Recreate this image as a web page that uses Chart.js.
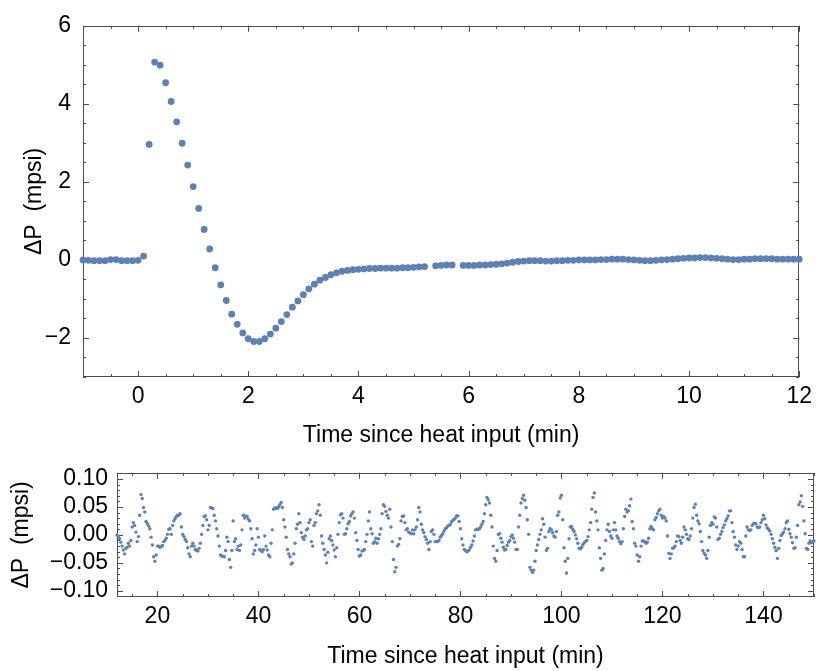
<!DOCTYPE html>
<html>
<head>
<meta charset="utf-8">
<title>Pressure response after heat input</title>
<script src="https://cdn.jsdelivr.net/npm/chart.js@4.4.1/dist/chart.umd.min.js"></script>
<style>
  html, body { margin: 0; padding: 0; background: #fff; }
  #wrap { position: relative; width: 818px; height: 671px; }
  #top-chart { position: absolute; left: 0; top: 0; }
  #long-chart { position: absolute; left: 0; top: 450px; }
</style>
</head>
<body>
<div id="wrap">
  <canvas id="top-chart" width="818" height="450"></canvas>
  <canvas id="long-chart" width="818" height="221"></canvas>
</div>
<script>
// ======================================
// DATA
// ======================================

// Upper panel: one sample every 0.1 min starting at -1.0 min (null = missing sample)
const topStart = -1.0;
const topStep = 0.1;
const topDeltaP = [
    0.00, -0.01, -0.02, -0.02, -0.02, 0.01, 0.01, -0.02, -0.02, -0.02, -0.01,
    0.10, 2.96, 5.07, 4.99, 4.54, 4.06, 3.54, 2.99, 2.43, 1.88,
    1.32, 0.78, 0.28, -0.20, -0.64, -1.04, -1.39, -1.65, -1.87, -2.02,
    -2.09, -2.09, -2.02, -1.90, -1.75, -1.58, -1.40, -1.21, -1.05, -0.89,
    -0.74, -0.62, -0.52, -0.45, -0.38, -0.33, -0.29, -0.27, -0.25, -0.24,
    -0.23, -0.22, -0.22, -0.21, -0.21, -0.21, -0.21, -0.20, -0.20, -0.19,
    -0.18, -0.17, null, -0.15, -0.14, -0.13, -0.13, null, -0.14, -0.14,
    -0.14, -0.13, -0.13, -0.12, -0.11, -0.10, -0.08, -0.06, -0.04, -0.03,
    -0.02, -0.02, -0.02, -0.03, -0.03, -0.02, -0.02, -0.01, -0.01, 0.00,
    0.00, 0.00, 0.00, 0.01, 0.01, 0.02, 0.02, 0.02, 0.01, 0.00,
    -0.01, -0.02, -0.02, -0.01, 0.00, 0.01, 0.02, 0.03, 0.04, 0.05,
    0.05, 0.06, 0.06, 0.05, 0.04, 0.03, 0.02, 0.01, 0.01, 0.02,
    0.02, 0.03, 0.03, 0.03, 0.03, 0.02, 0.02, 0.02, 0.02, 0.02
];
const topXTicks = [0, 2, 4, 6, 8, 10, 12];
const topYTicks = [-2, 0, 2, 4, 6];

// Lower panel: samples on the half minute, 12.0 .. 150.0 min
const longStart = 12;
const longStep = 0.5;
const longDeltaP = [
    // 12 - 35
    0.000, -0.007, -0.020, -0.034, -0.022, -0.020, 0.014, 0.017, -0.012, 0.035,
    0.065, 0.041, 0.020, 0.011, -0.018, -0.047, -0.020, -0.022, -0.019, -0.010,
    0.001, 0.011, 0.017, 0.029, 0.035, 0.038, 0.001, -0.008, -0.023, -0.039,
    -0.015, -0.026, -0.029, -0.015, 0.017, 0.034, 0.009, 0.049, 0.047, 0.025,
    -0.002, -0.036, -0.038, -0.028, -0.012, -0.058, 0.025,
    // 35.5 - 58.5
    -0.007, -0.020, -0.018, 0.035, 0.034, 0.028, 0.011, -0.034, -0.018, -0.004,
    -0.028, -0.026, -0.020, -0.036, -0.015, 0.046, 0.048, 0.050, 0.058, 0.027,
    -0.004, -0.034, -0.052, -0.034, 0.011, 0.038, 0.004, -0.008, 0.009, 0.022,
    -0.012, 0.017, 0.038, 0.054, -0.002, -0.026, -0.050, -0.007, -0.010, -0.027,
    -0.023, 0.022, 0.038, 0.001, 0.011, 0.024, 0.038,
    // 59 - 82.5
    0.030, -0.010, -0.038, -0.029, -0.026, 0.001, 0.041, 0.002, -0.012, -0.015,
    0.001, 0.038, 0.051, 0.035, 0.046, -0.012, -0.066, -0.020, -0.007, 0.033,
    0.022, 0.011, 0.004, 0.009, 0.009, 0.027, 0.041, 0.009, -0.003, -0.015,
    -0.012, 0.009, -0.012, -0.012, -0.004, 0.002, 0.011, 0.016, 0.019, 0.026,
    0.030, 0.034, 0.011, -0.018, -0.028, -0.029, -0.022, -0.011,
    // 83 - 106
    0.009, 0.010, 0.014, 0.024, 0.054, 0.063, 0.035, -0.020, -0.047, 0.001,
    -0.006, -0.022, -0.026, -0.013, -0.003, -0.006, -0.026, 0.014, 0.057, 0.071,
    0.049, 0.001, -0.063, -0.063, -0.028, -0.008, 0.009, 0.019, -0.028, 0.006,
    0.009, -0.002, 0.006, 0.041, 0.071, -0.023, -0.068, -0.007, 0.015, 0.006,
    -0.007, -0.024, -0.022, -0.014, -0.010, 0.009, 0.046,
    // 106.5 - 129.5
    0.075, 0.025, -0.023, -0.063, -0.034, 0.009, 0.006, -0.006, 0.022, -0.002,
    -0.012, -0.012, 0.033, 0.041, 0.052, 0.024, -0.015, -0.036, -0.039, -0.011,
    -0.012, -0.013, 0.011, 0.011, 0.027, 0.038, 0.046, 0.030, 0.030, -0.002,
    -0.042, -0.024, -0.020, -0.002, -0.010, -0.004, 0.009, -0.007, -0.002, 0.030,
    0.055, 0.025, 0.006, -0.028, -0.036, -0.028, 0.017,
    // 130 - 150
    0.019, 0.030, -0.008, 0.001, 0.013, 0.025, 0.034, 0.043, 0.006, -0.018,
    -0.020, -0.015, -0.039, -0.002, 0.009, 0.009, 0.020, 0.020, 0.013, 0.022,
    0.035, 0.018, 0.010, 0.001, -0.015, -0.028, -0.024, -0.001, 0.005, 0.022,
    0.010, -0.004, -0.024, -0.004, 0.054, 0.070, 0.025, -0.024, -0.015, -0.014,
    -0.011
];

// Lower panel: samples on the quarter minute in between, 12.25 .. 149.75 min
const longMidStart = 12.25;
const longDeltaPMid = [
    // 12.25 - 34.75
    -0.003, -0.013, -0.027, -0.024, -0.015, -0.010, 0.022, 0.005, -0.003, 0.072,
    0.049, 0.024, 0.016, -0.004, -0.039, -0.036, -0.020, -0.021, -0.012, -0.006,
    0.010, 0.001, 0.025, 0.033, 0.035, 0.014, -0.003, -0.012, -0.034, -0.020,
    -0.020, -0.028, -0.024, 0.001, 0.033, 0.027, 0.017, 0.048, 0.035, 0.011,
    -0.020, -0.038, -0.039, -0.004, -0.044, -0.028,
    // 35.25 - 58.75
    -0.012, -0.026, -0.028, 0.009, 0.030, 0.033, 0.025, -0.007, -0.028, 0.011,
    -0.026, -0.030, -0.002, -0.027, -0.039, 0.009, 0.048, 0.047, 0.054, 0.049,
    0.014, -0.026, -0.039, -0.050, -0.015, 0.019, 0.022, -0.004, -0.002, 0.011,
    0.027, -0.020, 0.022, 0.043, 0.035, -0.015, -0.036, -0.031, -0.002, -0.018,
    -0.039, 0.001, 0.036, 0.030, 0.002, 0.020, 0.034, 0.041,
    // 59.25 - 82.75
    0.004, -0.026, -0.036, -0.028, -0.012, 0.025, 0.011, -0.015, -0.006, -0.007,
    0.011, 0.054, 0.042, 0.030, 0.014, -0.044, -0.058, -0.017, 0.025, 0.034,
    0.009, 0.005, 0.002, 0.002, 0.014, 0.049, 0.019, 0.004, -0.008, -0.026,
    0.006, 0.001, -0.012, -0.010, -0.001, 0.007, 0.013, 0.017, 0.024, 0.028,
    0.034, 0.024, -0.007, -0.026, -0.030, -0.027, -0.018, -0.002,
    // 83.25 - 106.25
    0.010, 0.011, 0.019, 0.038, 0.067, 0.057, 0.014, -0.042, -0.028, 0.002,
    -0.013, -0.027, -0.019, -0.010, 0.000, -0.013, -0.026, 0.035, 0.065, 0.062,
    0.027, -0.058, -0.067, -0.047, -0.018, 0.001, 0.029, -0.004, -0.024, 0.011,
    0.004, -0.004, 0.035, 0.066, 0.027, -0.047, -0.042, 0.014, 0.010, 0.000,
    -0.015, -0.025, -0.017, -0.012, -0.003, 0.022, 0.067,
    // 106.75 - 129.75
    0.041, 0.009, -0.042, -0.060, -0.010, 0.019, -0.002, 0.009, 0.009, -0.006,
    -0.016, 0.011, 0.046, 0.043, 0.064, 0.011, -0.020, -0.047, -0.020, -0.011,
    -0.015, -0.006, 0.015, 0.009, 0.031, 0.043, 0.035, 0.033, 0.025, -0.033,
    -0.034, -0.023, -0.012, -0.003, -0.015, 0.014, 0.001, -0.008, 0.011, 0.049,
    0.035, 0.020, -0.012, -0.033, -0.042, -0.004, 0.022,
    // 130.25 - 149.75
    0.032, 0.014, -0.006, 0.006, 0.018, 0.029, 0.043, 0.022, -0.004, -0.026,
    -0.012, -0.026, -0.039, 0.014, 0.008, 0.017, 0.021, 0.014, 0.014, 0.027,
    0.029, 0.013, 0.007, -0.007, -0.022, -0.042, -0.010, 0.002, 0.011, 0.025,
    0.002, -0.014, -0.023, 0.017, 0.059, 0.051, 0.002, -0.026, -0.011, -0.012
];
const longXTicks = [20, 40, 60, 80, 100, 120, 140];
const longYTicks = [-0.10, -0.05, 0.00, 0.05, 0.10];


// ======================================
// SHARED STYLE
// ======================================

const pointColor = "#5E81B5";
const frameColor = "#4d4d4d";
const fontFamily = "'Liberation Sans', Arial, sans-serif";
const tickFont = { family: fontFamily, size: 23 };
const titleFont = { family: fontFamily, size: 23 };

function minusSign(text) {
    return String(text).replace("-", "\u2212");
}

function toPoints(start, step, values) {
    const pts = [];
    values.forEach(function (v, i) {
        if (v === null) return;
        pts.push({ x: Math.round((start + i * step) * 1000) / 1000, y: v });
    });
    return pts;
}

// Mathematica-style frame: box on all four sides with inward major/minor ticks
const frameTicks = {
    id: "frameTicks",
    beforeDatasetsDraw(chart, args, opts) {
        const ctx = chart.ctx;
        const a = chart.chartArea;
        const xs = chart.scales.x;
        const ys = chart.scales.y;

        ctx.save();
        ctx.strokeStyle = frameColor;
        ctx.lineWidth = 1;
        ctx.beginPath();

        function xTick(v, len) {
            const px = Math.round(xs.getPixelForValue(v)) + 0.5;
            ctx.moveTo(px, a.bottom); ctx.lineTo(px, a.bottom - len);
            ctx.moveTo(px, a.top); ctx.lineTo(px, a.top + len);
        }
        function yTick(v, len) {
            const py = Math.round(ys.getPixelForValue(v)) + 0.5;
            ctx.moveTo(a.left, py); ctx.lineTo(a.left + len, py);
            ctx.moveTo(a.right, py); ctx.lineTo(a.right - len, py);
        }

        const eps = 1e-9;
        for (let v = opts.xMinorFrom; v <= xs.max + eps; v += opts.xMinor) xTick(v, 3);
        for (let v = opts.yMinorFrom; v <= ys.max + eps; v += opts.yMinor) yTick(v, 3);
        xs.ticks.forEach(function (t) { xTick(t.value, 6); });
        ys.ticks.forEach(function (t) { yTick(t.value, 6); });

        ctx.stroke();
        ctx.strokeRect(Math.round(a.left) + 0.5, Math.round(a.top) + 0.5,
            Math.round(a.right - a.left) - 1, Math.round(a.bottom - a.top) - 1);
        ctx.restore();
    }
};

function axisX(min, max, ticks, height) {
    return {
        type: "linear",
        min: min,
        max: max,
        afterBuildTicks: function (s) { s.ticks = ticks.map(function (v) { return { value: v }; }); },
        afterFit: function (s) { s.height = height; },
        grid: { display: false, drawTicks: false },
        border: { display: false },
        ticks: { color: "#000", font: tickFont, padding: 6, autoSkip: false, maxRotation: 0 },
        title: {
            display: true,
            text: "Time since heat input (min)",
            color: "#000",
            font: titleFont,
            padding: { top: 0, bottom: 1 }
        }
    };
}

function axisY(min, max, ticks, width, digits, titlePad, labelPad) {
    return {
        type: "linear",
        min: min,
        max: max,
        afterBuildTicks: function (s) { s.ticks = ticks.map(function (v) { return { value: v }; }); },
        afterFit: function (s) { s.width = width; },
        grid: { display: false, drawTicks: false },
        border: { display: false },
        ticks: {
            color: "#000",
            font: tickFont,
            padding: labelPad,
            autoSkip: false,
            callback: function (value) { return minusSign(Number(value).toFixed(digits)); }
        },
        title: {
            display: true,
            text: "\u0394P  (mpsi)",
            color: "#000",
            font: titleFont,
            padding: { top: titlePad, bottom: 0 }
        }
    };
}


// ======================================
// UPPER PANEL (-1 .. 12 min)
// ======================================

new Chart(document.getElementById("top-chart"), {
    type: "scatter",
    data: {
        datasets: [{
            data: toPoints(topStart, topStep, topDeltaP),
            backgroundColor: pointColor,
            borderColor: pointColor,
            borderWidth: 0,
            pointRadius: 3.4,
            clip: false
        }]
    },
    options: {
        responsive: false,
        animation: false,
        devicePixelRatio: 1,
        layout: { padding: { top: 17, right: 14, left: 0, bottom: 0 } },
        scales: {
            x: axisX(-1, 12, topXTicks, 73),
            y: axisY(-3, 6, topYTicks, 83, 0, 21, 12)
        },
        plugins: {
            legend: { display: false },
            tooltip: { enabled: false },
            frameTicks: { xMinorFrom: -1, xMinor: 0.5, yMinorFrom: -3, yMinor: 0.5 }
        }
    },
    plugins: [frameTicks]
});


// ======================================
// LOWER PANEL (12 .. 150 min)
// ======================================

const longPoints = toPoints(longStart, longStep, longDeltaP)
    .concat(toPoints(longMidStart, longStep, longDeltaPMid))
    .sort(function (a, b) { return a.x - b.x; });

new Chart(document.getElementById("long-chart"), {
    type: "scatter",
    data: {
        datasets: [{
            data: longPoints,
            backgroundColor: pointColor,
            borderColor: pointColor,
            borderWidth: 0,
            pointRadius: 1.7,
            clip: false
        }]
    },
    options: {
        responsive: false,
        animation: false,
        devicePixelRatio: 1,
        layout: { padding: { top: 7, right: 2, left: 0, bottom: 0 } },
        scales: {
            x: axisX(12, 150, longXTicks, 74),
            y: axisY(-0.111, 0.111, longYTicks, 117, 2, 8, 9)
        },
        plugins: {
            legend: { display: false },
            tooltip: { enabled: false },
            frameTicks: { xMinorFrom: 15, xMinor: 5, yMinorFrom: -0.11, yMinor: 0.01 }
        }
    },
    plugins: [frameTicks]
});
</script>
</body>
</html>
